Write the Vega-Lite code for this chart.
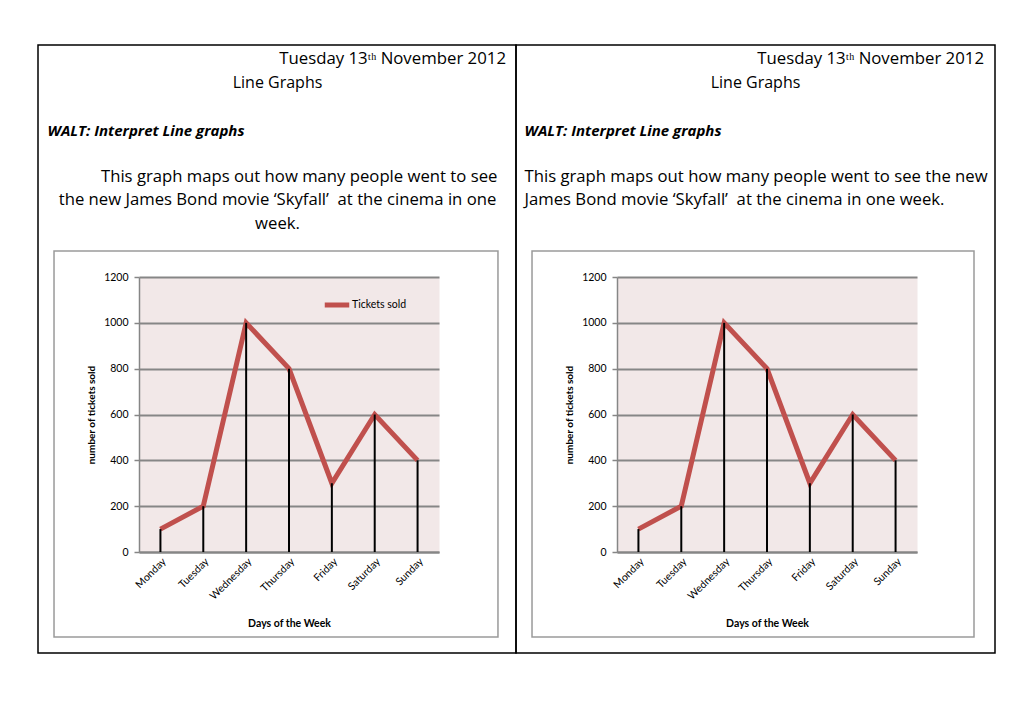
{
  "$schema": "https://vega.github.io/schema/vega-lite/v6.json",
  "padding": {"left": 37, "top": 44, "right": 0, "bottom": 0},
  "spacing": 0,
  "bounds": "flush",
  "background": "#ffffff",
  "config": {"view": {"stroke": "#000000", "strokeWidth": 1.5}, "font": "Lato"},
  "datasets": {
    "tickets": [
      {"day": "Monday", "day_number": 1, "tickets": 100},
      {"day": "Tuesday", "day_number": 2, "tickets": 200},
      {"day": "Wednesday", "day_number": 3, "tickets": 1000},
      {"day": "Thursday", "day_number": 4, "tickets": 800},
      {"day": "Friday", "day_number": 5, "tickets": 300},
      {"day": "Saturday", "day_number": 6, "tickets": 600},
      {"day": "Sunday", "day_number": 7, "tickets": 400}
    ]
  },
  "hconcat": [
    {
      "width": 478,
      "height": 608,
      "title": {"text": "Tuesday 13ᵗʰ November 2012", "anchor": "end", "frame": "group", "orient": "top", "offset": -40, "dx": -10, "font": "Open Sans", "fontSize": 16.8, "fontWeight": "normal", "color": "#000000", "baseline": "bottom"},
      "resolve": {"axis": {"x": "independent", "y": "independent"}},
      "layer": [
        {
          "data": {"values": [{}]},
          "mark": {"type": "rect", "fill": "transparent", "stroke": "#9A9A9A", "strokeWidth": 1.5},
          "encoding": {
            "x": {"datum": -1.483, "type": "quantitative", "scale": {"domain": [0.5, 7.5], "range": [101, 401], "nice": false, "zero": false},
              "axis": {"orient": "top", "labels": false, "ticks": false, "domain": false, "grid": false,
                "title": ["\u200b\u00a0\u00a0\u00a0\u00a0\u00a0\u00a0\u00a0\u00a0\u00a0\u00a0This graph maps out how many people went to see", "the new James Bond movie ‘Skyfall’\u00a0 at the cinema in one", "week."],
                "titleX": 239, "titleY": 123, "titleAlign": "center", "titleBaseline": "top", "titleLineHeight": 23.5,
                "titleFont": "Open Sans", "titleFontSize": 16.7, "titleFontWeight": "normal", "titleColor": "#000000"}},
            "x2": {"datum": 8.876},
            "y": {"datum": -370.9, "type": "quantitative", "scale": {"domain": [0, 1200], "range": [507, 232], "nice": false, "zero": false}, "axis": null},
            "y2": {"datum": 1313.5}
          }
        },
        {
          "data": {"name": "tickets"},
          "mark": {"type": "line", "strokeWidth": 5},
          "encoding": {
            "x": {"field": "day_number", "type": "quantitative", "scale": {"domain": [0.5, 7.5], "range": [101, 401], "nice": false, "zero": false},
              "axis": {"orient": "top", "labels": false, "ticks": false, "domain": false, "values": [4],
                "grid": true, "gridColor": "#F2E8E8", "gridWidth": 300,
                "title": "Line Graphs", "titleX": 239, "titleY": 37, "titleAlign": "center", "titleBaseline": "middle",
                "titleFont": "Open Sans", "titleFontSize": 16, "titleFontWeight": "normal", "titleColor": "#000000"}},
            "y": {"field": "tickets", "type": "quantitative", "scale": {"domain": [0, 1200], "range": [507, 232], "nice": false, "zero": false},
              "axis": {"orient": "right", "labels": false, "ticks": false, "domain": false, "grid": false,
                "title": "WALT: Interpret Line graphs", "titleAngle": 0, "titleX": -469, "titleY": 85, "titleAlign": "left", "titleBaseline": "middle",
                "titleFont": "Open Sans", "titleFontSize": 15, "titleFontWeight": "bold", "titleFontStyle": "italic", "titleColor": "#000000"}},
            "stroke": {"datum": "Tickets sold", "type": "nominal", "scale": {"range": ["#C0504D"]},
              "legend": {"orient": "none", "legendX": 284, "legendY": 245, "title": null, "symbolType": "stroke", "symbolStrokeWidth": 5, "symbolSize": 600, "labelFont": "Lato", "labelFontSize": 10.5, "labelColor": "#000000", "labelOffset": 0, "padding": 0}}
          }
        },
        {
          "data": {"name": "tickets"},
          "mark": {"type": "rule", "color": "#000000", "strokeWidth": 2},
          "encoding": {
            "x": {"field": "day_number", "type": "quantitative", "scale": {"domain": [0.5, 7.5], "range": [101, 401], "nice": false, "zero": false},
              "axis": {"orient": "bottom", "offset": -101, "values": [1, 2, 3, 4, 5, 6, 7],
                "labelExpr": "['Monday','Tuesday','Wednesday','Thursday','Friday','Saturday','Sunday'][datum.value - 1]",
                "labelAngle": -45, "labelFont": "Lato", "labelFontSize": 10.5, "labelColor": "#000000", "labelPadding": 4,
                "labelOverlap": false, "labelFlush": false, "labelBound": false,
                "ticks": false, "domain": true, "domainColor": "#868686", "domainWidth": 2, "grid": false,
                "title": "Days of the Week", "titleFont": "Lato", "titleFontSize": 10.5, "titleFontWeight": "bold", "titleColor": "#000000",
                "titleY": 71, "titleBaseline": "middle"}},
            "y": {"field": "tickets", "type": "quantitative", "scale": {"domain": [0, 1200], "range": [507, 232], "nice": false, "zero": false},
              "axis": {"orient": "left", "offset": -101, "values": [0, 200, 400, 600, 800, 1000, 1200], "format": "d",
                "labelFont": "Lato", "labelFontSize": 10.5, "labelColor": "#000000", "labelPadding": 6,
                "labelOverlap": false, "labelFlush": false, "labelBound": false,
                "tickSize": 5, "tickColor": "#868686", "tickWidth": 1.5, "domainColor": "#868686", "domainWidth": 1.5,
                "grid": true, "gridColor": "#868686", "gridWidth": 2,
                "title": "number of tickets sold", "titleFont": "Lato", "titleFontSize": 10, "titleFontWeight": "bold", "titleColor": "#000000",
                "titleX": -48, "titleBaseline": "middle"}},
            "y2": {"datum": 0}
          }
        }
      ]
    },
    {
      "width": 479,
      "height": 608,
      "title": {"text": "Tuesday 13ᵗʰ November 2012", "anchor": "end", "frame": "group", "orient": "top", "offset": -40, "dx": -11, "font": "Open Sans", "fontSize": 16.8, "fontWeight": "normal", "color": "#000000", "baseline": "bottom"},
      "resolve": {"axis": {"x": "independent", "y": "independent"}},
      "layer": [
        {
          "data": {"values": [{}]},
          "mark": {"type": "rect", "fill": "transparent", "stroke": "#9A9A9A", "strokeWidth": 1.5},
          "encoding": {
            "x": {"datum": -1.483, "type": "quantitative", "scale": {"domain": [0.5, 7.5], "range": [101, 401], "nice": false, "zero": false},
              "axis": {"orient": "top", "labels": false, "ticks": false, "domain": false, "grid": false,
                "title": ["This graph maps out how many people went to see the new", "James Bond movie ‘Skyfall’\u00a0 at the cinema in one week."],
                "titleX": 8, "titleY": 123, "titleAlign": "left", "titleBaseline": "top", "titleLineHeight": 23.5,
                "titleFont": "Open Sans", "titleFontSize": 16.7, "titleFontWeight": "normal", "titleColor": "#000000"}},
            "x2": {"datum": 8.83},
            "y": {"datum": -370.9, "type": "quantitative", "scale": {"domain": [0, 1200], "range": [507, 232], "nice": false, "zero": false}, "axis": null},
            "y2": {"datum": 1313.5}
          }
        },
        {
          "data": {"name": "tickets"},
          "mark": {"type": "line", "strokeWidth": 5},
          "encoding": {
            "x": {"field": "day_number", "type": "quantitative", "scale": {"domain": [0.5, 7.5], "range": [101, 401], "nice": false, "zero": false},
              "axis": {"orient": "top", "labels": false, "ticks": false, "domain": false, "values": [4],
                "grid": true, "gridColor": "#F2E8E8", "gridWidth": 300,
                "title": "Line Graphs", "titleX": 239, "titleY": 37, "titleAlign": "center", "titleBaseline": "middle",
                "titleFont": "Open Sans", "titleFontSize": 16, "titleFontWeight": "normal", "titleColor": "#000000"}},
            "y": {"field": "tickets", "type": "quantitative", "scale": {"domain": [0, 1200], "range": [507, 232], "nice": false, "zero": false},
              "axis": {"orient": "right", "labels": false, "ticks": false, "domain": false, "grid": false,
                "title": "WALT: Interpret Line graphs", "titleAngle": 0, "titleX": -471, "titleY": 85, "titleAlign": "left", "titleBaseline": "middle",
                "titleFont": "Open Sans", "titleFontSize": 15, "titleFontWeight": "bold", "titleFontStyle": "italic", "titleColor": "#000000"}},
            "stroke": {"datum": "Tickets sold", "type": "nominal", "scale": {"range": ["#C0504D"]},
              "legend": {"orient": "none", "legendX": 284, "legendY": 245, "title": null, "symbolType": "stroke", "symbolStrokeWidth": 5, "symbolSize": 600, "labelFont": "Lato", "labelFontSize": 10.5, "labelColor": "#000000", "labelOffset": 0, "padding": 0}}
          }
        },
        {
          "data": {"name": "tickets"},
          "mark": {"type": "rule", "color": "#000000", "strokeWidth": 2},
          "encoding": {
            "x": {"field": "day_number", "type": "quantitative", "scale": {"domain": [0.5, 7.5], "range": [101, 401], "nice": false, "zero": false},
              "axis": {"orient": "bottom", "offset": -101, "values": [1, 2, 3, 4, 5, 6, 7],
                "labelExpr": "['Monday','Tuesday','Wednesday','Thursday','Friday','Saturday','Sunday'][datum.value - 1]",
                "labelAngle": -45, "labelFont": "Lato", "labelFontSize": 10.5, "labelColor": "#000000", "labelPadding": 4,
                "labelOverlap": false, "labelFlush": false, "labelBound": false,
                "ticks": false, "domain": true, "domainColor": "#868686", "domainWidth": 2, "grid": false,
                "title": "Days of the Week", "titleFont": "Lato", "titleFontSize": 10.5, "titleFontWeight": "bold", "titleColor": "#000000",
                "titleY": 71, "titleBaseline": "middle"}},
            "y": {"field": "tickets", "type": "quantitative", "scale": {"domain": [0, 1200], "range": [507, 232], "nice": false, "zero": false},
              "axis": {"orient": "left", "offset": -101, "values": [0, 200, 400, 600, 800, 1000, 1200], "format": "d",
                "labelFont": "Lato", "labelFontSize": 10.5, "labelColor": "#000000", "labelPadding": 6,
                "labelOverlap": false, "labelFlush": false, "labelBound": false,
                "tickSize": 5, "tickColor": "#868686", "tickWidth": 1.5, "domainColor": "#868686", "domainWidth": 1.5,
                "grid": true, "gridColor": "#868686", "gridWidth": 2,
                "title": "number of tickets sold", "titleFont": "Lato", "titleFontSize": 10, "titleFontWeight": "bold", "titleColor": "#000000",
                "titleX": -48, "titleBaseline": "middle"}},
            "y2": {"datum": 0}
          }
        }
      ]
    }
  ]
}
